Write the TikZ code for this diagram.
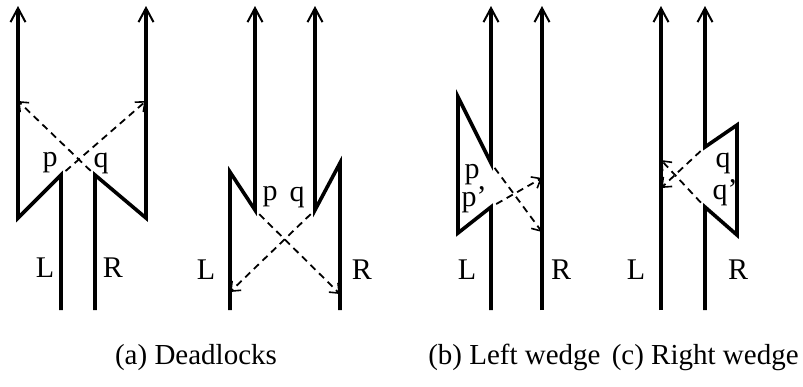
\documentclass[tikz,border=0pt]{standalone}
\usepackage{fontspec}
\setmainfont{Liberation Serif}
\usetikzlibrary{arrows.meta}

\begin{document}
\begin{tikzpicture}[x=0.5pt, y=-0.5pt, line join=miter,
  thread/.style={line width=1.8pt},
  up/.style={thread, -{Straight Barb[length=7pt, width=7.5pt, line width=1pt]}},
  wait/.style={line width=0.9pt, dash pattern=on 3.5pt off 2.5pt,
    -{Straight Barb[length=4pt, width=6.5pt, line width=0.8pt]}, shorten <=3pt},
  lab/.style={font=\fontsize{15}{18}\selectfont, inner sep=0pt},
  figcap/.style={font=\fontsize{14.5}{17}\selectfont, inner sep=0pt}]
  \useasboundingbox (0,0) rectangle (803,386);

  % (a) deadlock, threads bent outwards
  \coordinate (aLbot) at (61,310);  \coordinate (aLin) at (61,175);
  \coordinate (aLout) at (18,218);  \coordinate (aLtop) at (18,6);
  \coordinate (aRbot) at (95,310);  \coordinate (aRin) at (95,175);
  \coordinate (aRout) at (146,218); \coordinate (aRtop) at (146,6);
  \coordinate (aLhit) at (18,101);  \coordinate (aRhit) at (146,101);
  \draw[up] (aLbot) -- (aLin) -- (aLout) -- (aLtop);
  \draw[up] (aRbot) -- (aRin) -- (aRout) -- (aRtop);
  \draw[wait] (aLin) -- (aRhit);
  \draw[wait] (aRin) -- (aLhit);
  \node[lab] (ap) at (50,163) {p};
  \node[lab] (aq) at (101,163) {q};
  \node[lab] (aL) at (45,268) {L};
  \node[lab] (aR) at (113,268) {R};

  % (a) deadlock, threads bent inwards
  \coordinate (bLbot) at (230,310); \coordinate (bLout) at (230,172);
  \coordinate (bLin) at (255,210);  \coordinate (bLtop) at (255,6);
  \coordinate (bRbot) at (340,310); \coordinate (bRout) at (340,163);
  \coordinate (bRin) at (315,210);  \coordinate (bRtop) at (315,6);
  \coordinate (bLhit) at (230,292); \coordinate (bRhit) at (340,294);
  \draw[up] (bLbot) -- (bLout) -- (bLin) -- (bLtop);
  \draw[up] (bRbot) -- (bRout) -- (bRin) -- (bRtop);
  \draw[wait] (bLin) -- (bRhit);
  \draw[wait] (bRin) -- (bLhit);
  \node[lab] (bp) at (270,197) {p};
  \node[lab] (bq) at (297,197) {q};
  \node[lab] (bL) at (206,270) {L};
  \node[lab] (bR) at (362,270) {R};

  % (b) left wedge
  \coordinate (cLbot) at (491,310); \coordinate (cLin2) at (491,207);
  \coordinate (cLlow) at (458,233); \coordinate (cLhigh) at (458,97);
  \coordinate (cLin1) at (491,163); \coordinate (cLtop) at (491,6);
  \coordinate (cRbot) at (542,310); \coordinate (cRtop) at (542,6);
  \coordinate (cRhit1) at (542,232); \coordinate (cRhit2) at (542,178);
  \draw[up] (cLbot) -- (cLin2) -- (cLlow) -- (cLhigh) -- (cLin1) -- (cLtop);
  \draw[up] (cRbot) -- (cRtop);
  \draw[wait] (cLin1) -- (cRhit1);
  \draw[wait] (cLin2) -- (cRhit2);
  \node[lab] (cp) at (472,175) {p};
  \node[lab] (cp2) at (474,200) {p'};
  \node[lab] (cL) at (467,270) {L};
  \node[lab] (cR) at (561,270) {R};

  % (c) right wedge
  \coordinate (dLbot) at (661,310); \coordinate (dLtop) at (661,6);
  \coordinate (dRbot) at (705,310); \coordinate (dRin2) at (705,207);
  \coordinate (dRlow) at (737,235); \coordinate (dRhigh) at (737,125);
  \coordinate (dRin1) at (705,147); \coordinate (dRtop) at (705,6);
  \coordinate (dLhit1) at (661,188); \coordinate (dLhit2) at (661,160);
  \draw[up] (dLbot) -- (dLtop);
  \draw[up] (dRbot) -- (dRin2) -- (dRlow) -- (dRhigh) -- (dRin1) -- (dRtop);
  \draw[wait] (dRin1) -- (dLhit1);
  \draw[wait] (dRin2) -- (dLhit2);
  \node[lab] (dq) at (723,163) {q};
  \node[lab] (dq2) at (725,193) {q'};
  \node[lab] (dL) at (636,270) {L};
  \node[lab] (dR) at (738,270) {R};

  % captions
  \node[figcap, anchor=base] (capa) at (196,364) {(a) Deadlocks};
  \node[figcap, anchor=base east] (capb) at (601,364) {(b) Left wedge};
  \node[figcap, anchor=base east] (capc) at (799,364) {(c) Right wedge};
\end{tikzpicture}
\end{document}
